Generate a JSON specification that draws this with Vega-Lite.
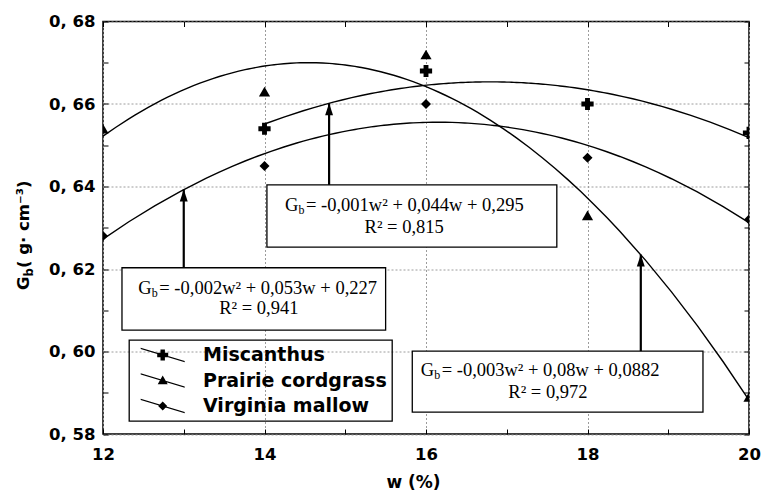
{
  "$schema": "https://vega.github.io/schema/vega-lite/v6.json",
  "width": 646,
  "height": 412.5,
  "autosize": {"type": "none"},
  "padding": {"left": 103, "top": 21.5, "right": 14, "bottom": 60},
  "background": "white",
  "config": {
    "view": {"stroke": "black", "strokeWidth": 1.5},
    "axis": {
      "domain": false,
      "tickColor": "black",
      "tickWidth": 1,
      "tickSize": -5,
      "labelFont": "DejaVu Sans",
      "labelFontWeight": "bold",
      "labelFontSize": 16.5,
      "labelColor": "black",
      "titleFont": "DejaVu Sans",
      "titleFontWeight": "bold",
      "titleFontSize": 17,
      "titleColor": "black",
      "gridColor": "#9c9c9c",
      "gridDash": [2, 2],
      "gridWidth": 1,
      "labelOverlap": false,
      "labelFlush": false
    },
    "legend": {"strokeWidth": 1.3}
  },
  "datasets": {
    "pts": [
      {"w": 14, "gb": 0.654, "series": "Miscanthus"},
      {"w": 16, "gb": 0.668, "series": "Miscanthus"},
      {"w": 18, "gb": 0.660, "series": "Miscanthus"},
      {"w": 20, "gb": 0.653, "series": "Miscanthus"},
      {"w": 12, "gb": 0.654, "series": "Prairie cordgrass"},
      {"w": 14, "gb": 0.663, "series": "Prairie cordgrass"},
      {"w": 16, "gb": 0.672, "series": "Prairie cordgrass"},
      {"w": 18, "gb": 0.633, "series": "Prairie cordgrass"},
      {"w": 20, "gb": 0.589, "series": "Prairie cordgrass"},
      {"w": 12, "gb": 0.628, "series": "Virginia mallow"},
      {"w": 14, "gb": 0.645, "series": "Virginia mallow"},
      {"w": 16, "gb": 0.660, "series": "Virginia mallow"},
      {"w": 18, "gb": 0.647, "series": "Virginia mallow"},
      {"w": 20, "gb": 0.632, "series": "Virginia mallow"}
    ],
    "eqs": [
      {"x1": 14.03, "x2": 17.62, "y1": 0.6253, "y2": 0.6404, "lx": 14.254, "ty1": 0.6355, "tx": 15.73, "ty2": 0.6303, "ax": 14.8, "ay1": 0.6404, "ay2": 0.6602, "eq": " = -0,001w² + 0,044w + 0,295", "r2": "R² = 0,815"},
      {"x1": 12.235, "x2": 15.5, "y1": 0.6052, "y2": 0.6203, "lx": 12.437, "ty1": 0.6153, "tx": 13.93, "ty2": 0.6105, "ax": 13.0, "ay1": 0.6203, "ay2": 0.6393, "eq": " = -0,002w² + 0,053w + 0,227", "r2": "R² = 0,941"},
      {"x1": 15.83, "x2": 19.43, "y1": 0.5853, "y2": 0.6001, "lx": 15.934, "ty1": 0.5955, "tx": 17.51, "ty2": 0.5903, "ax": 18.66, "ay1": 0.6001, "ay2": 0.6235, "eq": " = -0,003w² + 0,08w + 0,0882", "r2": "R² = 0,972"}
    ]
  },
  "data": {"name": "pts"},
  "layer": [
    {
      "layer": [
        {
          "transform": [{"regression": "gb", "on": "w", "groupby": ["series"], "method": "poly", "order": 2}],
          "mark": {"type": "line", "color": "black", "strokeWidth": 1.4},
          "encoding": {
            "x": {
              "field": "w", "type": "quantitative",
              "scale": {"domain": [12, 20], "nice": false, "zero": false},
              "axis": {
                "values": [12, 13, 14, 15, 16, 17, 18, 19, 20],
                "labelExpr": "datum.value % 2 == 0 ? format(datum.value, 'd') : ''",
                "gridOpacity": {"condition": {"test": "datum.value % 2 == 0", "value": 1}, "value": 0},
                "labelPadding": 17,
                "title": "w (%)",
                "titlePadding": 12,
                "titleX": 310
              }
            },
            "y": {
              "field": "gb", "type": "quantitative",
              "scale": {"domain": [0.58, 0.68], "nice": false, "zero": false},
              "axis": {
                "values": [0.58, 0.59, 0.6, 0.61, 0.62, 0.63, 0.64, 0.65, 0.66, 0.67, 0.68],
                "labelExpr": "round(datum.value * 100) % 2 == 0 ? replace(format(datum.value, '.2f'), '.', ', ') : ''",
                "gridOpacity": {"condition": {"test": "round(datum.value * 100) % 2 == 0", "value": 1}, "value": 0},
                "labelPadding": 13,
                "title": null
              }
            },
            "detail": {"field": "series"}
          }
        },
        {
          "mark": {"type": "point", "filled": true, "color": "black", "opacity": 1, "clip": true},
          "encoding": {
            "x": {"field": "w", "type": "quantitative"},
            "y": {"field": "gb", "type": "quantitative"},
            "shape": {
              "field": "series", "type": "nominal",
              "scale": {"domain": ["Miscanthus", "Prairie cordgrass", "Virginia mallow"], "range": ["cross", "triangle-up", "diamond"]},
              "legend": null
            },
            "size": {
              "field": "series", "type": "nominal",
              "scale": {"domain": ["Miscanthus", "Prairie cordgrass", "Virginia mallow"], "range": [150, 100, 85]},
              "legend": null
            }
          }
        },
        {
          "data": {"name": "eqs"},
          "mark": {"type": "rect", "fill": "white", "stroke": "black", "strokeWidth": 1.3},
          "encoding": {
            "x": {"field": "x1", "type": "quantitative"},
            "x2": {"field": "x2"},
            "y": {"field": "y1", "type": "quantitative"},
            "y2": {"field": "y2"}
          }
        },
        {
          "data": {"name": "eqs"},
          "mark": {"type": "rule", "color": "black", "strokeWidth": 2.2},
          "encoding": {
            "x": {"field": "ax", "type": "quantitative"},
            "y": {"field": "ay1", "type": "quantitative"},
            "y2": {"field": "ay2"}
          }
        },
        {
          "data": {"name": "eqs"},
          "mark": {"type": "point", "filled": true, "color": "black", "opacity": 1, "shape": "M0,0L-0.33,1L0.33,1Z", "size": 576},
          "encoding": {
            "x": {"field": "ax", "type": "quantitative"},
            "y": {"field": "ay2", "type": "quantitative"}
          }
        },
        {
          "data": {"name": "eqs"},
          "mark": {"type": "text", "text": "G", "align": "left", "baseline": "middle", "font": "Liberation Serif", "fontSize": 18.5, "color": "black"},
          "encoding": {
            "x": {"field": "lx", "type": "quantitative"},
            "y": {"field": "ty1", "type": "quantitative"}
          }
        },
        {
          "data": {"name": "eqs"},
          "mark": {"type": "text", "text": "b", "align": "left", "baseline": "middle", "font": "Liberation Serif", "fontSize": 12, "color": "black", "dx": 13.5, "dy": 5},
          "encoding": {
            "x": {"field": "lx", "type": "quantitative"},
            "y": {"field": "ty1", "type": "quantitative"}
          }
        },
        {
          "data": {"name": "eqs"},
          "mark": {"type": "text", "align": "left", "baseline": "middle", "font": "Liberation Serif", "fontSize": 18.5, "color": "black", "dx": 21},
          "encoding": {
            "x": {"field": "lx", "type": "quantitative"},
            "y": {"field": "ty1", "type": "quantitative"},
            "text": {"field": "eq"}
          }
        },
        {
          "data": {"name": "eqs"},
          "mark": {"type": "text", "align": "center", "baseline": "middle", "font": "Liberation Serif", "fontSize": 18.5, "color": "black"},
          "encoding": {
            "x": {"field": "tx", "type": "quantitative"},
            "y": {"field": "ty2", "type": "quantitative"},
            "text": {"field": "r2"}
          }
        },
        {
          "data": {"values": [{}]},
          "mark": {"type": "text", "text": "G", "angle": 270, "align": "left", "baseline": "alphabetic", "font": "DejaVu Sans", "fontWeight": "bold", "fontSize": 16.5, "color": "black", "dy": -74},
          "encoding": {
            "x": {"datum": 12, "type": "quantitative"},
            "y": {"datum": 0.6149, "type": "quantitative"}
          }
        },
        {
          "data": {"values": [{}]},
          "mark": {"type": "text", "text": "b", "angle": 270, "align": "left", "baseline": "alphabetic", "font": "DejaVu Sans", "fontWeight": "bold", "fontSize": 11.5, "color": "black", "dx": 13.5, "dy": -70},
          "encoding": {
            "x": {"datum": 12, "type": "quantitative"},
            "y": {"datum": 0.6149, "type": "quantitative"}
          }
        },
        {
          "data": {"values": [{}]},
          "mark": {"type": "text", "text": "( g· cm⁻³)", "angle": 270, "align": "left", "baseline": "alphabetic", "font": "DejaVu Sans", "fontWeight": "bold", "fontSize": 16.5, "color": "black", "dx": 22, "dy": -74},
          "encoding": {
            "x": {"datum": 12, "type": "quantitative"},
            "y": {"datum": 0.6149, "type": "quantitative"}
          }
        }
      ]
    },
    {
      "mark": {"type": "point", "filled": true, "color": "black", "opacity": 0},
      "encoding": {
        "x": {
          "field": "w", "type": "quantitative",
          "axis": {"orient": "top", "labels": false, "grid": false, "title": null, "values": [12, 13, 14, 15, 16, 17, 18, 19, 20]}
        },
        "y": {
          "field": "gb", "type": "quantitative",
          "axis": {"orient": "right", "labels": false, "grid": false, "title": null, "values": [0.58, 0.59, 0.6, 0.61, 0.62, 0.63, 0.64, 0.65, 0.66, 0.67, 0.68]}
        },
        "shape": {
          "field": "series", "type": "nominal",
          "scale": {
            "domain": ["Miscanthus", "Prairie cordgrass", "Virginia mallow"],
            "range": [
              "M-0.33,-0.72L4.07,0.6L4.07,0.72L-0.33,-0.6ZM1.32,-0.22L1.65,-0.22L1.65,-0.55L2.09,-0.55L2.09,-0.22L2.42,-0.22L2.42,0.22L2.09,0.22L2.09,0.55L1.65,0.55L1.65,0.22L1.32,0.22Z",
              "M-0.33,-0.72L4.07,0.6L4.07,0.72L-0.33,-0.6ZM1.87,-0.5L2.37,0.37L1.37,0.37Z",
              "M-0.33,-0.72L4.07,0.6L4.07,0.72L-0.33,-0.6ZM1.87,-0.45L2.32,0L1.87,0.45L1.42,0Z"
            ]
          },
          "legend": {
            "orient": "none",
            "legendX": 26,
            "legendY": 318.5,
            "title": null,
            "symbolSize": 400,
            "symbolOpacity": 1,
            "symbolFillColor": "black",
            "symbolStrokeColor": "black",
            "symbolStrokeWidth": 0,
            "labelFont": "DejaVu Sans",
            "labelFontWeight": "bold",
            "labelFontSize": 19,
            "labelColor": "black",
            "labelOffset": 49,
            "labelLimit": 400,
            "padding": 5,
            "rowPadding": 5.5,
            "strokeColor": "black",
            "encode": {
              "symbols": {
                "update": {
                  "fill": {"value": "black"},
                  "fillOpacity": {"value": 1},
                  "opacity": {"value": 1}
                }
              }
            }
          }
        }
      }
    }
  ],
  "resolve": {"scale": {"shape": "independent"}, "axis": {"x": "independent", "y": "independent"}}
}
